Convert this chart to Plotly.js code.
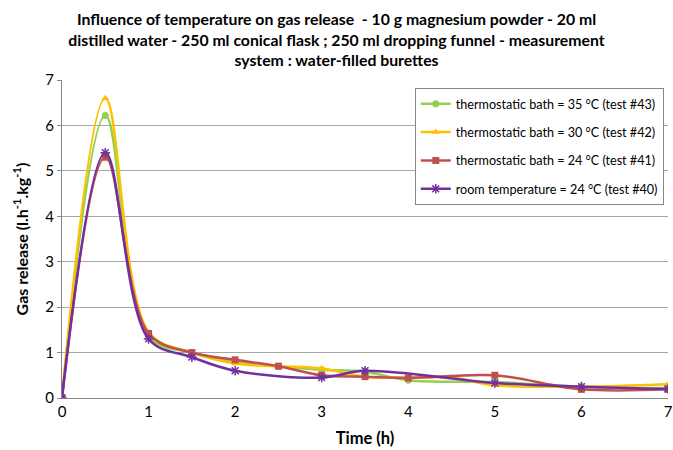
<!DOCTYPE html>
<html>
<head>
<meta charset="utf-8">
<script src="https://cdn.plot.ly/plotly-3.0.1.min.js"></script>
<style>html,body{margin:0;padding:0;background:#fff;}#chart{width:673px;height:450px;}</style>
</head>
<body>
<div id="chart"></div>
<script>
const seriesNames = [
  "thermostatic bath = 35 °C (test #43)",
  "thermostatic bath = 30 °C (test #42)",
  "thermostatic bath = 24 °C (test #41)",
  "room temperature = 24 °C (test #40)"
];
const xGreen = [0, 0.5, 1, 1.5, 2, 2.5, 3, 3.5, 4, 5, 6, 7];
const yGreen = [0, 6.22, 1.35, 1.0, 0.8, 0.7, 0.62, 0.58, 0.39, 0.35, 0.25, 0.22];
const xYellow = [0, 0.5, 1, 1.5, 2, 2.5, 3, 3.5, 4, 4.5, 5, 6, 7];
const yYellow = [0, 6.6, 1.45, 1.0, 0.76, 0.7, 0.65, 0.47, 0.45, 0.45, 0.28, 0.25, 0.3];
const xRed = [0, 0.5, 1, 1.5, 2, 2.5, 3, 3.5, 4, 5, 6, 7];
const yRed = [0, 5.3, 1.42, 1.0, 0.84, 0.7, 0.5, 0.47, 0.44, 0.5, 0.19, 0.19];
const xPurple = [0, 0.5, 1, 1.5, 2, 3, 3.5, 5, 6, 7];
const yPurple = [0, 5.4, 1.3, 0.9, 0.6, 0.45, 0.6, 0.33, 0.25, 0.2];

const colors = ["#92D050", "#FFC000", "#C0504D", "#7030A0"];
const symbols = ["circle", "triangle-up", "square", "asterisk-open"];
const xs = [xGreen, xYellow, xRed, xPurple];
const ys = [yGreen, yYellow, yRed, yPurple];

const traces = xs.map((x, i) => ({
  x: x, y: ys[i], name: seriesNames[i], type: "scatter", mode: "lines+markers",
  legendgroup: "g" + i,
  line: {color: colors[i], width: 2.5, shape: "spline", smoothing: 1},
  marker: {color: colors[i], symbol: symbols[i], size: i === 3 ? 8 : 7,
           line: {color: colors[i], width: i === 3 ? 1.5 : 0}}
}));

const font = "Lato, 'Noto Sans', sans-serif";
const layout = {
  width: 673, height: 450,
  margin: {l: 62, r: 5, t: 80, b: 52},
  paper_bgcolor: "#fff", plot_bgcolor: "#fff",
  font: {family: font, color: "#000", size: 15},
  title: {
    text: "<b>Influence of temperature on gas release  - 10 g magnesium powder - 20 ml<br>distilled water - 250 ml conical flask ; 250 ml dropping funnel - measurement<br>system : water-filled burettes</b>",
    font: {family: font, size: 15.8, color: "#000"},
    x: 0.5, xanchor: "center", xref: "container", yref: "container", y: 0.944, yanchor: "middle"
  },
  xaxis: {
    range: [0, 7], dtick: 1, tick0: 0, showgrid: false, zeroline: false,
    showline: true, linecolor: "#868686", linewidth: 1,
    ticks: "", tickfont: {size: 15, family: font}, ticklabeloverflow: "allow",
    title: {text: "<b>Time (h)</b>", font: {size: 16.5, family: font}, standoff: 13}
  },
  yaxis: {
    range: [0, 7], dtick: 1, tick0: 0, showgrid: true, gridcolor: "#A6A6A6", gridwidth: 1,
    zeroline: false, showline: true, linecolor: "#868686", linewidth: 1,
    ticks: "outside", ticklen: 4, tickcolor: "#868686", tickfont: {size: 15, family: font},
    title: {text: "<b>Gas release (l.h<sup>-1</sup>.kg<sup>-1</sup>)</b>", font: {size: 16, family: font}, standoff: 12}
  },
  legend: {
    x: 0.993, xanchor: "right", y: 0.975, yanchor: "top",
    bgcolor: "#fff", bordercolor: "#868686", borderwidth: 1,
    font: {size: 12.6, family: font}, tracegroupgap: 9, itemwidth: 30
  },
  showlegend: true
};

Plotly.newPlot("chart", traces, layout, {displayModeBar: false, staticPlot: true});
</script>
</body>
</html>
